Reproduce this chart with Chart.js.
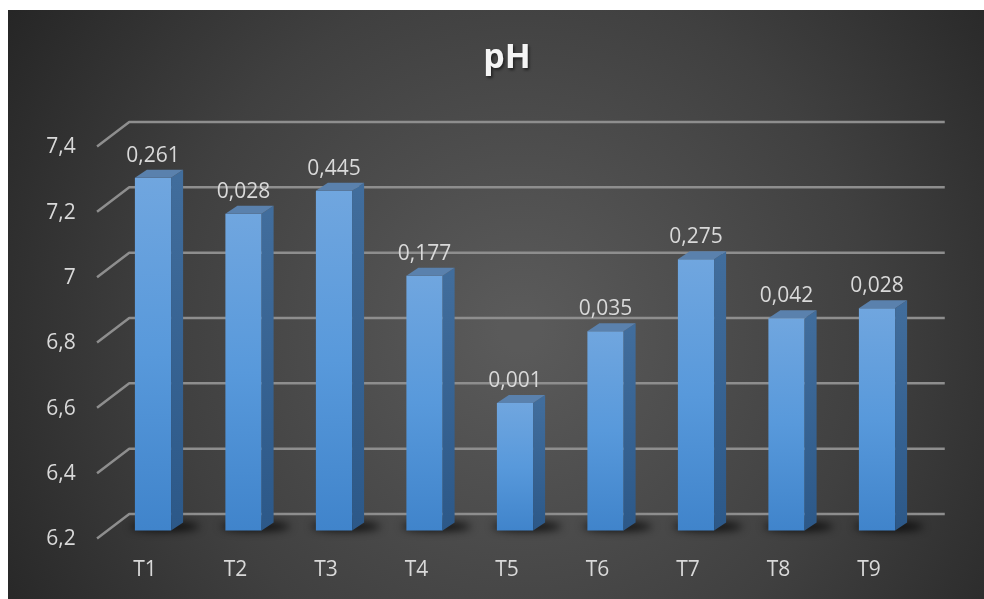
<!DOCTYPE html>
<html>
<head>
<meta charset="utf-8">
<script src="https://cdn.jsdelivr.net/npm/chart.js@4"></script>
<style>
  html, body { margin: 0; padding: 0; background: #ffffff; }
  #wrap { width: 984px; height: 599px; position: relative; }
</style>
</head>
<body>
<div id="wrap"><canvas id="chart"></canvas></div>
<script>
// Mean pH per treatment, with the value printed above each column
const categories = ['T1', 'T2', 'T3', 'T4', 'T5', 'T6', 'T7', 'T8', 'T9'];
const phValues   = [7.28, 7.17, 7.24, 6.98, 6.59, 6.81, 7.03, 6.85, 6.88];
const noteValues = [0.261, 0.028, 0.445, 0.177, 0.001, 0.035, 0.275, 0.042, 0.028];
const yTicks     = [6.2, 6.4, 6.6, 6.8, 7.0, 7.2, 7.4];
const chartTitle = 'pH';

const FONT = '"Open Sans", "Noto Sans", sans-serif';
const TEXT = '#d9d9d9';

// depth of each column (side/top faces) and of the walls
const BAR_DX = 12, BAR_DY = -8;
const BACK_DX = 21.5, BACK_DY = -16.5;
const FRONT_DX = -10.7, FRONT_DY = 8;

const comma = v => String(Math.round(v * 10) / 10).replace('.', ',');

const backdrop = {
  id: 'backdrop',
  beforeDraw(chart) {
    const { ctx, width, height } = chart;
    ctx.save();
    ctx.fillStyle = '#ffffff';
    ctx.fillRect(0, 0, width, height);
    const g = ctx.createRadialGradient(520, 330, 20, 520, 330, 620);
    g.addColorStop(0, '#5a5a5a');
    g.addColorStop(0.55, '#404040');
    g.addColorStop(1, '#242424');
    ctx.fillStyle = g;
    ctx.fillRect(8, 10, width - 8, height - 10);
    // title with a soft drop shadow
    ctx.font = 'bold 34px ' + FONT;
    ctx.textAlign = 'center';
    ctx.textBaseline = 'middle';
    ctx.shadowColor = 'rgba(0,0,0,0.55)';
    ctx.shadowBlur = 3;
    ctx.shadowOffsetX = 1.5;
    ctx.shadowOffsetY = 2;
    ctx.fillStyle = '#f4f4f4';
    ctx.fillText(chartTitle, 507, 58);
    ctx.restore();
  }
};

const depth3d = {
  id: 'depth3d',
  beforeDatasetsDraw(chart) {
    const { ctx, chartArea: a, scales: { y } } = chart;
    ctx.save();
    // back wall grid lines with the side-wall connectors
    ctx.strokeStyle = '#8e8e8e';
    ctx.lineWidth = 2.5;
    ctx.lineJoin = 'round';
    yTicks.forEach(v => {
      const py = y.getPixelForValue(v);
      ctx.beginPath();
      ctx.moveTo(a.left + FRONT_DX, py + FRONT_DY);
      ctx.lineTo(a.left + BACK_DX, py + BACK_DY);
      ctx.lineTo(a.right + BACK_DX + 1, py + BACK_DY);
      ctx.stroke();
    });
    // soft floor shadows behind the columns
    const floor = y.getPixelForValue(yTicks[0]);
    const meta = chart.getDatasetMeta(0);
    ctx.filter = 'blur(4px)';
    ctx.fillStyle = 'rgba(0,0,0,0.8)';
    meta.data.forEach(bar => {
      ctx.beginPath();
      ctx.ellipse(bar.x + 12, floor - 4, bar.width * 0.95, 4.5, 0, 0, Math.PI * 2);
      ctx.fill();
    });
    ctx.restore();
  },
  afterDatasetsDraw(chart) {
    const { ctx, scales: { y } } = chart;
    const floor = y.getPixelForValue(yTicks[0]);
    const meta = chart.getDatasetMeta(0);
    ctx.save();
    meta.data.forEach((bar, i) => {
      const l = bar.x - bar.width / 2, r = bar.x + bar.width / 2;
      const t = bar.y, b = floor;
      // side face
      const sg = ctx.createLinearGradient(0, t, 0, b);
      sg.addColorStop(0, '#416d9c');
      sg.addColorStop(1, '#2c5888');
      ctx.fillStyle = sg;
      ctx.beginPath();
      ctx.moveTo(r, t);
      ctx.lineTo(r + BAR_DX, t + BAR_DY);
      ctx.lineTo(r + BAR_DX, b + BAR_DY);
      ctx.lineTo(r, b);
      ctx.closePath();
      ctx.fill();
      // top face
      ctx.fillStyle = '#5a81ad';
      ctx.beginPath();
      ctx.moveTo(l, t);
      ctx.lineTo(l + BAR_DX, t + BAR_DY);
      ctx.lineTo(r + BAR_DX, t + BAR_DY);
      ctx.lineTo(r, t);
      ctx.closePath();
      ctx.fill();
      // printed value
      ctx.fillStyle = TEXT;
      ctx.font = '21px ' + FONT;
      ctx.textAlign = 'center';
      ctx.textBaseline = 'alphabetic';
      ctx.fillText(noteValues[i].toFixed(3).replace('.', ','), bar.x, t - 16);
    });
    ctx.restore();
  }
};

function frontFace(context) {
  const chart = context.chart;
  const { chartArea, scales } = chart;
  if (!chartArea || !scales.y) return '#5593d6';
  const top = scales.y.getPixelForValue(context.raw);
  const bottom = scales.y.getPixelForValue(yTicks[0]);
  const g = chart.ctx.createLinearGradient(0, top, 0, bottom);
  g.addColorStop(0, '#70a6df');
  g.addColorStop(0.5, '#5899db');
  g.addColorStop(1, '#4084cb');
  return g;
}

new Chart(document.getElementById('chart'), {
  type: 'bar',
  data: {
    labels: categories,
    datasets: [{
      data: phValues,
      backgroundColor: frontFace,
      borderWidth: 0,
      categoryPercentage: 1,
      barPercentage: 0.4
    }]
  },
  options: {
    responsive: true,
    maintainAspectRatio: false,
    animation: false,
    layout: { padding: { left: 8, top: 138.5, right: 61.75, bottom: 0 } },
    plugins: {
      legend: { display: false },
      tooltip: { enabled: false },
      title: { display: false }
    },
    scales: {
      x: {
        grid: { display: false },
        border: { display: false },
        ticks: {
          color: TEXT,
          font: { family: FONT, size: 21 },
          padding: 19,
          labelOffset: -8,
          maxRotation: 0
        },
        afterFit(scale) { scale.height = 68.5; }
      },
      y: {
        min: 6.2,
        max: 7.4,
        grid: { display: false },
        border: { display: false },
        afterBuildTicks(axis) { axis.ticks = yTicks.map(v => ({ value: v })); },
        ticks: {
          color: TEXT,
          font: { family: FONT, size: 21 },
          padding: 24,
          labelOffset: 9,
          callback: v => comma(v)
        },
        afterFit(scale) { scale.width = 99.75; }
      }
    }
  },
  plugins: [backdrop, depth3d]
});
</script>
</body>
</html>
